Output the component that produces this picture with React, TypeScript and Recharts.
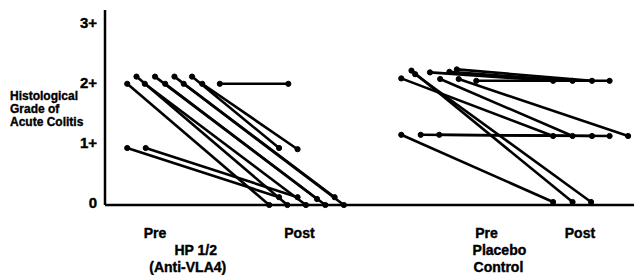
import { LineChart, Line, XAxis, YAxis } from "recharts";

// x positions are jittered slots along the axis (0..29), one per subject
const hpPreX = [1.2, 1.7, 2.15, 2.7, 3.25, 3.75, 4.25, 4.7, 5.25, 6.2, 1.2, 2.2];
const hpPre = [2.02, 2.14, 2.02, 2.14, 2.02, 2.14, 2.02, 2.14, 2.02, 2.02, 0.95, 0.95];
const hpPostX = [8.87, 9.85, 10.85, 11.45, 11.9, 12.4, 12.9, 9.4, 10.4, 9.9, 9.4, 10.4];
const hpPost = [0, 0, 0, 0.1, 0, 0.13, 0, 0.95, 0.93, 2.02, 0.13, 0.13];

const pbPreX = [16.0, 16.55, 16.75, 17.55, 18.1, 18.6, 19.0, 19.1, 20.05, 16.0, 17.05, 18.05];
const pbPre = [2.11, 2.24, 2.18, 2.21, 2.1, 2.22, 2.26, 2.1, 2.07, 1.17, 1.17, 1.17];
const pbPostX = [24.2, 25.25, 26.25, 24.2, 25.25, 25.25, 26.3, 28.25, 27.25, 24.2, 26.3, 27.25];
const pbPost = [1.15, 0.05, 0.05, 2.07, 1.15, 2.07, 2.07, 1.15, 2.07, 0.05, 1.15, 1.15];

const timeTicks = [2.7, 10.5, 20.6, 25.65];
const timeLabels = ["Pre", "Post", "Pre", "Post"];
const groupTicks = [4.9, 21.3];
const groupLabels = [
  ["HP 1/2", "(Anti-VLA4)"],
  ["Placebo", "Control"],
];
const yTicks = [0, 1, 2, 3];
const yLabels = ["0", "1+", "2+", "3+"];
const yTitle = ["Histological", "Grade of", "Acute Colitis"];

const font = "'Liberation Sans', Arial, sans-serif";
const heavy = { fontFamily: font, fontWeight: "bold" as const, fill: "#000", stroke: "#000", strokeWidth: 0.4 };

const subjects = [
  ...hpPre.map((v, i) => [
    { x: hpPreX[i], y: v },
    { x: hpPostX[i], y: hpPost[i] },
  ]),
  ...pbPre.map((v, i) => [
    { x: pbPreX[i], y: v },
    { x: pbPostX[i], y: pbPost[i] },
  ]),
];

// invisible anchor so the group axis gets rendered
const groupAnchor = groupTicks.map((x) => ({ x, y: 0 }));

const TimeTick = (props: any) => {
  const { x, y, index } = props;
  return (
    <text x={x} y={y + 25} textAnchor="middle" fontSize={14} {...heavy}>
      {timeLabels[index]}
    </text>
  );
};

const GroupTick = (props: any) => {
  const { x, y, index } = props;
  const lines = groupLabels[index];
  const dx2 = index === 0 ? -8 : -1;
  return (
    <text fontSize={14} textAnchor="middle" {...heavy}>
      <tspan x={x} y={y + 12}>{lines[0]}</tspan>
      <tspan x={x + dx2} y={y + 29}>{lines[1]}</tspan>
    </text>
  );
};

const YTick = (props: any) => {
  const { y, index } = props;
  return (
    <text x={89} y={y + 3} textAnchor="end" fontSize={15} {...heavy}>
      {yLabels[index]}
    </text>
  );
};

const YTitle = () => (
  <text fontSize={12} {...heavy} strokeWidth={0.35}>
    {yTitle.map((t, i) => (
      <tspan key={t} x={2} y={92 + i * 13}>
        {t}
      </tspan>
    ))}
  </text>
);

const App = () => {
  return (
    <LineChart width={634} height={267} margin={{ top: 2, right: 0, bottom: 0, left: 0 }}>
      <XAxis
        dataKey="x"
        type="number"
        domain={[0, 29]}
        ticks={timeTicks}
        tick={<TimeTick />}
        tickLine={false}
        axisLine={{ stroke: "#000", strokeWidth: 2.5 }}
        height={30}
        allowDataOverflow
      />
      <XAxis
        xAxisId="grp"
        dataKey="x"
        type="number"
        domain={[0, 29]}
        ticks={groupTicks}
        tick={<GroupTick />}
        tickLine={false}
        axisLine={false}
        height={40}
      />
      <YAxis
        type="number"
        domain={[0, 3.25]}
        ticks={yTicks}
        tick={<YTick />}
        tickLine={false}
        axisLine={{ stroke: "#000", strokeWidth: 2.5 }}
        width={97}
        label={{ content: <YTitle /> }}
      />
      <Line
        xAxisId="grp"
        data={groupAnchor}
        dataKey="y"
        stroke="none"
        dot={false}
        activeDot={false}
        isAnimationActive={false}
      />
      {subjects.map((d, i) => (
        <Line
          key={i}
          data={d}
          dataKey="y"
          stroke="#000"
          strokeWidth={2.6}
          dot={{ r: 2.6, fill: "#000", stroke: "#000", strokeWidth: 1 }}
          isAnimationActive={false}
        />
      ))}
    </LineChart>
  );
};

export default App;
